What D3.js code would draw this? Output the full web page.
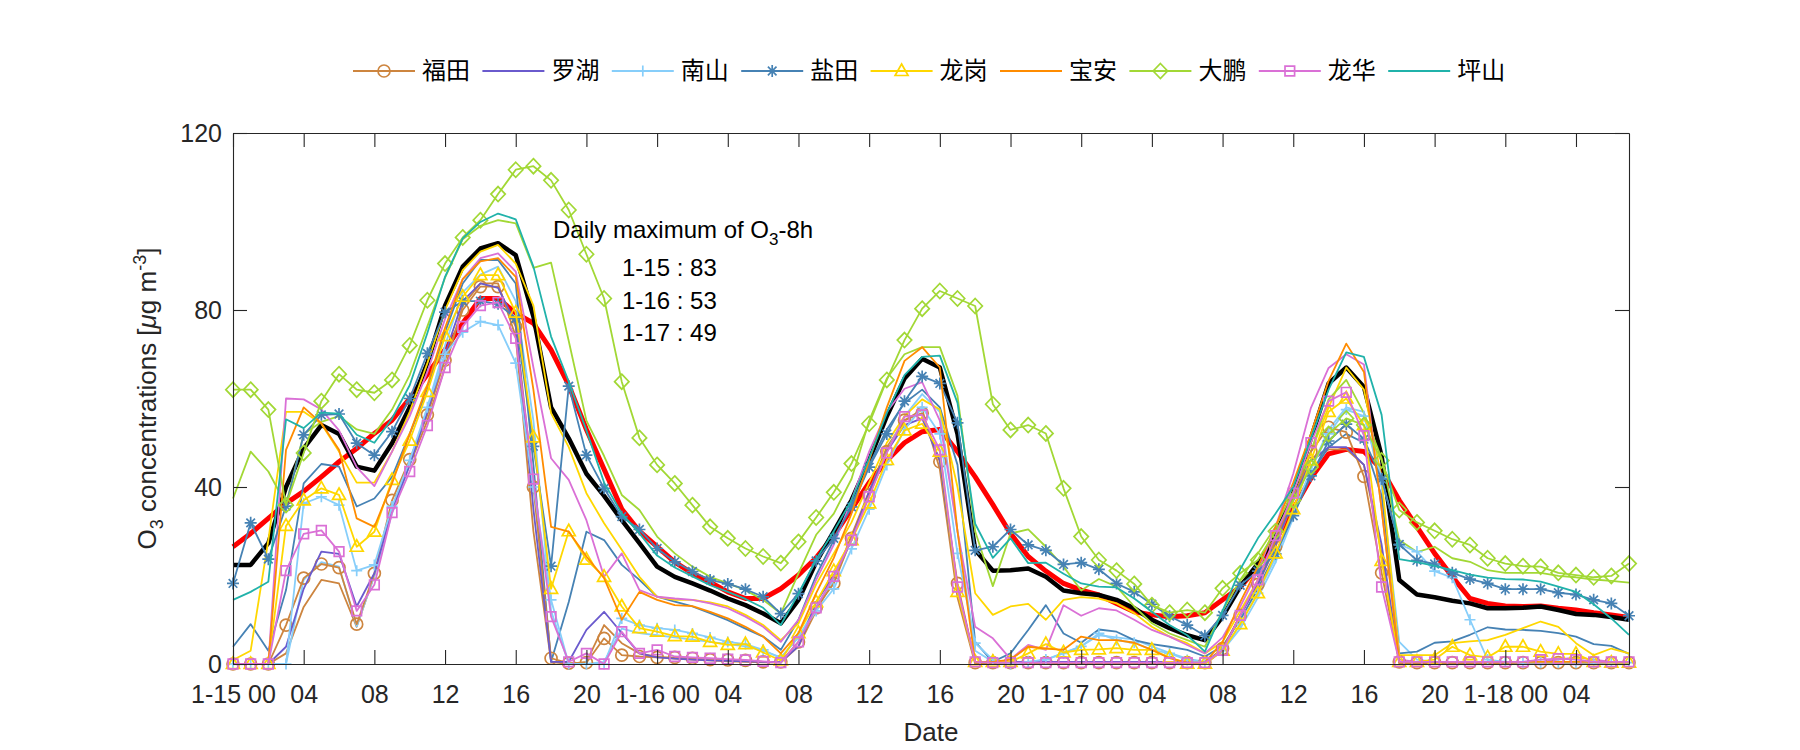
<!DOCTYPE html>
<html><head><meta charset="utf-8">
<script src="https://cdn.jsdelivr.net/npm/d3@7"></script>
<style>body{margin:0;background:#fff;} svg{display:block;}</style>
</head><body>
<svg id="chart" width="1800" height="750"></svg>
<script>
// ---------------- DATA ----------------
const stations = ["福田","罗湖","南山","盐田","龙岗","宝安","大鹏","龙华","坪山"];
const stationColors = ["#CD853F","#6A5ACD","#87CEFA","#4682B4","#FFD700","#FF8C00","#A2D835","#DA70D6","#20B2AA"];
const stationMarkers = ["circle","none","plus","asterisk","triangle","none","diamond","square","none"];
const xTickHours = [0,4,8,12,16,20,24,28,32,36,40,44,48,52,56,60,64,68,72,76];
const xTickLabels = ["1-15 00","04","08","12","16","20","1-16 00","04","08","12","16","20","1-17 00","04","08","12","16","20","1-18 00","04"];
const yTicks = [0,40,80,120];
const dayLabels = ["1-15","1-16","1-17"];

const futian = [0,0,0,8.8,19.4,22.6,21.8,9,20.5,37,
 46.2,56.3,68.7,80,85.3,85.3,76.2,40,1.3,0.2,
 0.3,5.8,2,1.7,1.5,1.5,1.3,1,0.9,0.8,
 0.5,0.5,5,12.7,18.2,28.4,38.2,48,55.1,56.7,
 45.7,18.2,0.3,0.3,0.3,0.3,0.3,0.3,0.3,0.3,
 0.3,0.3,0.3,0.3,0.3,0.3,3.5,11,18,26.5,
 37,48,53.5,52.4,42.4,20.6,0.5,0.3,0.3,0.3,
 0.3,0.3,0.3,0.3,0.3,0.3,0.3,0.3,0.3,0.3];
const futian2 = [0,0,0,2.4,12.9,19,18.2,8.4,20,35,
 45,55,67,81,86,86,74,30,0.5,0,
 0.5,8.8,4.7,2.4,1.6,1.2,1,0.8,0.6,0.5,
 0.4,0.3,4,12,19,29,39,49,55,57.5,
 44,15,0,0,0,0,0,0,0,0,
 0,0,0,0,0,0,3,11,19,28,
 38,46,48.5,48.5,45,25,0,0,0,0,
 0,0,0,0,0,0,0,0,0,0];
const luohu = [0,0,0,3.9,17,25.4,24.9,13,20.5,34.8,
 45,57,70,82,86,85,77,35,0.5,0.5,
 7.7,11.8,7,2.4,1.5,1.2,1,0.8,0.7,0.6,
 0.5,0.5,4,14,20,28,39,48,54,55.5,
 46,17,0.5,0.5,0.5,0.5,0.5,0.5,0.5,0.5,
 0.5,0.5,0.5,0.5,0.5,0.5,3,11,18,27,
 37,46,49,49,45,27,0.5,0.5,0.5,0.5,
 0.5,0.5,0.5,0.5,0.5,0.5,0.5,0.5,0.5,0.5];
const nanshan = [0,0,0,0,36.3,37.8,35.9,21.1,22.4,35.6,
 46,58,70,75,77.4,76.6,68,40,14.5,0,
 0,0,10.3,8.8,8.1,7.7,6.9,6,5,4.5,
 3.2,1.3,6.2,12,17,26,35,45,53,58,
 52,25,4.7,1,0,0.5,1,2.4,4,6.9,
 5.4,4.8,3.2,2.4,0.9,0.3,3,9,16,24,
 34,44,52,57.5,56,42,27,25.4,21,19.5,
 10,1,0.5,0.3,0.3,0.3,0.3,0.3,0.3,0.3];
const nanshan2 = [0,0,0,0,19,23,22,8.5,20,34,
 45,58,72,84,88,89.8,82,55,12,0,
 0,0.5,8,7,6.5,6,5.5,5,4.5,4,
 3,1.5,6,13,19,28,38,48,56,61,
 57,30,3,0.5,0,0.5,1,2.5,4,6.5,
 6,5.5,4,2.5,1.2,0.5,3,8,15,23,
 33,44,53,58,57,40,5,1,0.5,0.5,
 0.5,0.5,0.5,0.5,0.5,0.5,0.5,0.5,0.5,0.5];
const yantian = [18.2,31.9,23.7,35.7,51.8,56.3,56.5,49.9,47.2,52.5,
 60,70.2,79.5,82,82,81.4,78.1,49.2,22.1,62.8,
 47.2,39.7,33.3,30.4,26.1,23.1,20.9,19,18.1,16.9,
 15.2,11.4,15.9,23.3,28.4,35.5,44.5,52,59.4,65,
 63.4,54.5,25.7,26.5,30.4,26.9,25.7,22.5,22.9,21.4,
 18.2,16.3,13.5,10.8,8.8,6.4,11,17.8,21,24.9,
 33.5,42.5,50.4,54.2,50.8,41.8,27,23.4,22.6,20.6,
 19.2,18.2,16.9,16.9,16.9,16.1,15.7,14.5,13.7,10.9];
const yantian2 = [3.9,9,3,16.7,40.8,45.2,44.6,35.6,37.4,42.3,
 52,62,75,86,91.3,91.3,86,45,0.5,14,
 29.9,28,22.4,19,15.2,14.1,13,11.5,9.9,8,
 6.2,3.2,10,20,28,36,45,53,59,62,
 58,45,5,0.5,2.4,7.7,13.3,6.9,4.8,7.8,
 7.3,5.4,4.5,3.9,3.2,1.7,4,10,17,25,
 34,43,49,52,50,38,2.4,2.8,4.8,5.1,
 6.6,8.3,7.8,7.7,7.5,7,6.2,4.5,4.1,2.3];
const longgang = [0,0,0,31.2,37,39.7,38.2,26.5,29.9,41.6,
 50.5,61.5,74.1,83,87.9,87.9,79.4,51.2,17,30,
 23.6,19.7,13,8.1,7.3,6.3,6.2,5,4.3,4.5,
 2.6,0.8,7,14,21,28,36.3,46.1,52.8,54.3,
 48,16.3,0.5,0.5,0.5,2.4,4.5,2.6,3.2,3.3,
 3.6,3.2,3.2,1.5,0.1,0.1,3,9,16,25,
 35,46,57,60,54,23.3,0.5,0.5,1,3.9,
 2,1.5,3.9,3.9,2.8,2.3,2.3,0.5,0.3,0.3];
const longgang2 = [0.9,3,28,57,57,54.3,48,41,41,48,
 57,68,80,89,93.2,94.7,90.5,81,56.7,49,
 38.6,31.8,25.8,19.7,15.2,14.5,14.5,13.9,13,11.1,
 8.8,5.4,9.2,18,25,32,41,50,56,59.8,
 57.5,40,16,11.1,13,13.6,10,14.5,15.1,14.8,
 13.7,11.5,8.4,6.2,4.7,2.4,5,12,19,27,
 37,48,58,67,62,42,2,2,2,4.7,
 5.1,5.4,6.6,8.1,9.6,8.4,4.7,2,3.5,2.4];
const baoan = [0,0,0,48.4,58,54.4,48.4,32.9,31,40.8,
 52,63,76,87,91,91.7,87.5,62,31,29.9,
 24.3,19.4,10,16.3,14.5,13.3,13.1,11.8,10.3,8.4,
 6.2,2.4,7,16,24,34,46,58,68.5,71.6,
 67,30,0.5,0.5,1,3.9,3.5,3.2,6.2,5.4,
 5.4,4.8,3.2,1.3,0.3,0.3,5,14,22,31,
 41,52,64,72.4,66,35,0.5,0.5,0.5,0.5,
 0.5,0.5,0.5,0.5,0.5,0.5,0.5,0.5,0.5,0.5];
const dapeng = [62,62,57.5,35.9,47.7,59.4,65.5,62,61.3,64.2,
 72,82.2,90.5,96.4,100.3,106.2,111.7,112.5,109.3,102.6,
 92.6,82.6,63.8,51.1,45,40.8,35.9,31,28.4,26.1,
 24.3,22.8,27.6,33.1,38.8,45.3,54.3,64.2,73.2,80.3,
 84.3,82.6,80.9,58.7,52.9,54,52.1,39.7,28.8,23.5,
 21.1,18.1,13.3,11.6,12.2,11.6,17.1,20.5,23.5,30,
 37,44.5,52,55.5,54,46,34.8,32,30.1,28.2,
 26.9,23.9,22.7,22.1,22,20.6,20.1,19.6,19.9,22.7];
const dapeng2 = [37.4,48,43.5,36,52,54.7,56,53,52,57.5,
 65.3,76.3,87.3,96,99,100.3,99.6,89.5,90.7,73,
 55,47,38.2,34.8,28.8,25,22,19.7,18.2,16.7,
 14.5,11.4,20.5,29.2,34,41.8,55,64.5,70,71.6,
 71.6,60.6,30,17.6,29.5,30.4,26.5,22,16.6,19.2,
 17.5,13,9.2,6.9,5.4,3.9,12,19,25,31,
 39,48,59.8,64.2,56.7,46.5,28,25.3,26.5,23.9,
 23.1,21.2,20.6,20.6,20.6,19.9,19.6,19.1,18.8,18.4];
const longhua = [0,0,0,21.1,29.4,30.2,25.4,12,17.9,34.2,
 43.5,53.9,67,76.3,81,81.7,73.6,41.8,10.7,0.5,
 2.4,0,7.3,2.4,3.2,1.7,1.5,1.3,1.1,0.9,
 0.6,0.3,5,12.7,19.8,28,37.8,47.7,55.9,56.3,
 48.4,17.4,0.5,0.3,0.3,0.3,0.3,0.3,0.3,0.3,
 0.3,0.3,0.3,0.3,0.3,0.3,3.1,11,19,29,
 38.6,50,59.4,61.4,51.6,17.4,0.5,0.5,0.5,0.5,
 0.5,0.5,0.5,0.5,1,1.2,1,0.5,0.5,0.5];
const longhua2 = [0,0,0,60,59.8,57.5,52.8,44.5,40.2,48,
 56,66,78,87,91.7,92.8,88.7,67,46.5,41.6,
 32.5,19.7,25,16.7,15.2,14.8,14.5,13.7,12.6,10.7,
 8.4,5,10,19,27,37,48,57,62.2,63.7,
 55,30,8.4,5.8,1.1,4.3,3.2,13.3,10.9,12.6,
 12.1,10,7.7,6.2,4.3,2.4,6,13,21,31,
 43,57.9,66.9,70,67.7,35,1,0.5,0.5,0.5,
 0.5,0.5,0.5,0.5,0.5,1,1.5,1,0.5,0.5];
const pingshan = [14.5,16.3,18.6,55.3,53.3,56.8,56.6,51.8,50,55.5,
 63,74.8,87.5,96.2,99.9,101.8,100.5,89.8,74,63.8,
 52.8,41,34,29.5,24.5,21.8,19.8,17.8,16.3,14.7,
 12.7,8.8,15.9,23.7,30,37,46.5,56.7,65.3,69.4,
 69.7,59,31.7,24,28.4,22.8,22.9,20.4,18.2,17.5,
 17.3,14.8,11.8,8.8,6.5,2.8,12,21.4,28.4,34,
 40,51,62,70.4,69.4,56.3,23.7,23,22.2,21.2,
 20.2,19.5,19.2,19.1,18.6,17.5,16.3,13.5,10.3,6.6];
const meanO3 = [22.4,22.4,27.3,40,48.7,54,52,44.6,43.7,49.9,
 58,68,81,89.8,93.9,95.1,92.4,78.5,58,51,
 43,38,32.5,27.3,22,19.7,18.2,16.6,14.8,13.3,
 11.4,9.2,14.5,23,30,37,46,56,64.5,69,
 67,52,25.8,21.1,21.2,21.6,19.7,16.6,16,15.6,
 14.5,12.6,10,8.1,6.5,5.4,10.7,17.5,22.7,29,
 38.6,51,63.4,67,62.6,47,19,15.7,15.1,14.3,
 13.7,12.6,12.6,12.7,13,12.2,11.3,11.1,10.6,10];
const o3_8h = [26.5,29.5,32.9,36.3,39,42.3,45.7,48.7,52.1,55.1,
 60,65.5,71,77,82.6,82.6,79.3,77,71,63,
 53,44,35,30,26.5,23,20.5,18.5,16.3,14.8,
 14.8,17,20.1,24,29,35,41,46,50,52.5,
 53,48,42.3,36,29.5,24.3,21,18.2,16.7,15.6,
 13.7,11.8,11.1,10.7,10.9,11.6,14.5,17.4,22,28,
 35,42,47.5,48.5,48,44,37,31,25,19.7,
 14.8,13.7,13.1,13,13.1,12.6,12.2,11.6,11.1,10.5];

// marker-set series (in legend) and plain companion series (not in legend)
const markerSeries = [futian, luohu, nanshan, yantian, longgang, baoan, dapeng, longhua, pingshan];
const plainSeries = [[0,futian2],[2,nanshan2],[3,yantian2],[4,longgang2],[6,dapeng2],[7,longhua2]];

// ---------------- DRAW ----------------
const svg = d3.select("#chart");
const L = 233, R = 1629, T = 133, B = 664;
const x = d3.scaleLinear().domain([0,79]).range([L,R]);
const y = d3.scaleLinear().domain([0,120]).range([B,T]);
const font = "'Liberation Sans', Arial, Helvetica, sans-serif";
const cjk = "'Noto Sans CJK SC', 'Noto Sans', sans-serif";
const axisColor = "#262626";

const markerPath = {
  circle: "M6,0A6,6 0 1,1 -6,0A6,6 0 1,1 6,0Z",
  plus: "M-5.5,0H5.5M0,-5.5V5.5",
  asterisk: "M-6,0H6M0,-6V6M-4.3,-4.3L4.3,4.3M-4.3,4.3L4.3,-4.3",
  triangle: "M0,-7L6.5,4.5H-6.5Z",
  diamond: "M0,-7.5L7.2,0L0,7.5L-7.2,0Z",
  square: "M-4.8,-4.8H4.8V4.8H-4.8Z"
};

const line = d3.line().x((d,i)=>x(i)).y(d=>y(d));
const plotG = svg.append("g");

function drawSeries(vals, color, width, marker){
  plotG.append("path").attr("d", line(vals)).attr("fill","none")
    .attr("stroke", color).attr("stroke-width", width).attr("stroke-linejoin","round");
  if (marker && marker !== "none") {
    plotG.append("g").selectAll("path").data(vals).join("path")
      .attr("transform", (d,i)=>`translate(${x(i)},${y(d)})`)
      .attr("d", markerPath[marker]).attr("fill","none")
      .attr("stroke", color).attr("stroke-width", 1.7);
  }
}

drawSeries(o3_8h, "#FF0000", 5, "none");
drawSeries(meanO3, "#000000", 4.5, "none");
plainSeries.forEach(([k, vals]) => drawSeries(vals, stationColors[k], 1.8, "none"));
markerSeries.forEach((vals, k) => drawSeries(vals, stationColors[k], 1.8, stationMarkers[k]));

// axes (MATLAB box style, inward ticks)
function styleAxis(g){
  g.selectAll("path,line").attr("stroke", axisColor).attr("stroke-width", 1.1);
  g.selectAll("text").attr("fill", axisColor).style("font-family", font).style("font-size","25px");
}
svg.append("g").attr("transform",`translate(0,${B})`)
  .call(d3.axisBottom(x).tickValues(xTickHours).tickFormat((d,i)=>xTickLabels[i]).tickSize(-14).tickSizeOuter(0).tickPadding(21))
  .call(styleAxis);
svg.append("g").attr("transform",`translate(0,${T})`)
  .call(d3.axisTop(x).tickValues(xTickHours).tickFormat("").tickSize(-14).tickSizeOuter(0))
  .call(styleAxis);
svg.append("g").attr("transform",`translate(${L},0)`)
  .call(d3.axisLeft(y).tickValues(yTicks).tickSize(-14).tickSizeOuter(0).tickPadding(11))
  .call(styleAxis);
svg.append("g").attr("transform",`translate(${R},0)`)
  .call(d3.axisRight(y).tickValues(yTicks).tickFormat("").tickSize(-14).tickSizeOuter(0))
  .call(styleAxis);

// axis labels
svg.append("text").attr("x",(L+R)/2).attr("y",741).attr("text-anchor","middle")
  .attr("fill",axisColor).style("font-family",font).style("font-size","26px").text("Date");
const yl = svg.append("text").attr("transform",`translate(156,${(T+B)/2}) rotate(-90)`)
  .attr("text-anchor","middle").attr("fill",axisColor).style("font-family",font).style("font-size","26px");
yl.append("tspan").text("O");
yl.append("tspan").attr("dy",7).style("font-size","18px").text("3");
yl.append("tspan").attr("dy",-7).text(" concentrations [");
yl.append("tspan").style("font-style","italic").text("μ");
yl.append("tspan").text("g m");
yl.append("tspan").attr("dy",-10).style("font-size","18px").text("-3");
yl.append("tspan").attr("dy",10).text("]");

// annotation: daily maximum of O3-8h, derived from the O3-8h series
const ann = svg.append("g").style("font-family",font).attr("fill","#000");
const t1 = ann.append("text").attr("x",553).attr("y",238).style("font-size","24px");
t1.append("tspan").text("Daily maximum of O");
t1.append("tspan").attr("dy",7).style("font-size","17px").text("3");
t1.append("tspan").attr("dy",-7).text("-8h");
dayLabels.forEach((lab, d) => {
  const mx = Math.round(d3.max(o3_8h.slice(d*24, d*24+24)));
  ann.append("text").attr("x",622).attr("y",276 + d*32.5).style("font-size","24px").text(`${lab} : ${mx}`);
});

// legend
const lg = svg.append("g");
stations.forEach((name, k) => {
  const x0 = 353 + k*129.4, yc = 71;
  lg.append("line").attr("x1",x0).attr("x2",x0+62).attr("y1",yc).attr("y2",yc)
    .attr("stroke",stationColors[k]).attr("stroke-width",1.8);
  if (stationMarkers[k] !== "none")
    lg.append("path").attr("transform",`translate(${x0+31},${yc})`).attr("d",markerPath[stationMarkers[k]])
      .attr("fill","none").attr("stroke",stationColors[k]).attr("stroke-width",1.7);
  lg.append("text").attr("x",x0+69).attr("y",yc).attr("dy","0.35em").attr("fill","#000")
    .style("font-family",cjk).style("font-size","24px").text(name);
});
</script>
</body></html>
